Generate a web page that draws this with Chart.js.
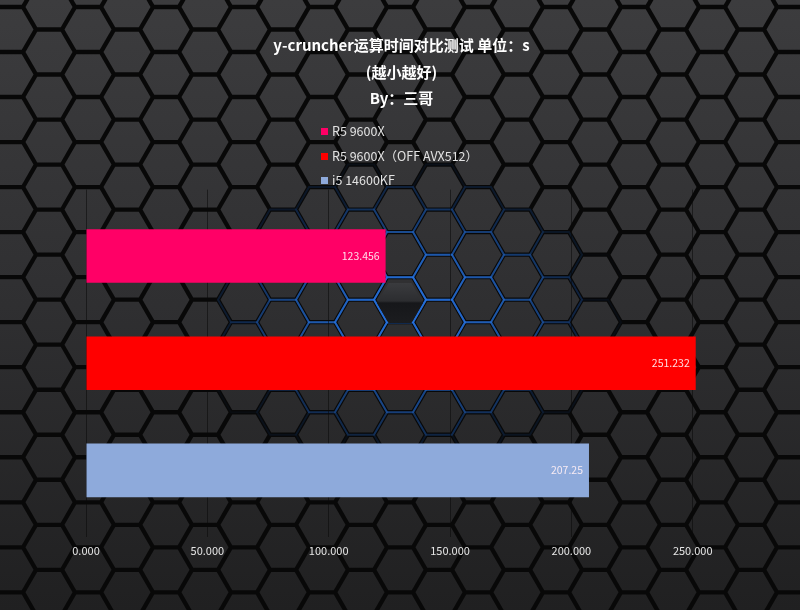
<!DOCTYPE html>
<html>
<head>
<meta charset="utf-8">
<script src="https://cdn.jsdelivr.net/npm/chart.js@4/dist/chart.umd.min.js"></script>
<style>
  html, body { margin: 0; padding: 0; background: #1b1b1b; }
  #wrap { position: relative; width: 800px; height: 610px; }
  #legend { position: absolute; left: 321px; top: 121px; font: 12.5px "Noto Sans CJK SC", "Noto Sans", sans-serif; color: #e2e2e2; }
  #legend div { height: 24.5px; line-height: 20px; white-space: nowrap; }
  #legend span { display: inline-block; width: 7px; height: 7px; margin-right: 4px; vertical-align: 1px; }
</style>
</head>
<body>
<div id="wrap">
  <canvas id="chart"></canvas>
  <div id="legend"></div>
</div>
<script>
// values
const TITLE = ['y-cruncher运算时间对比测试 单位：s', '(越小越好)', 'By：三哥'];
const SERIES = ['R5 9600X', 'R5 9600X（OFF AVX512）', 'i5 14600KF'];
const TIMES = [123.456, 251.232, 207.25];
const BAR_COLORS = ['#ff0066', '#ff0000', '#8eaadb'];
const X_TICKS = [0, 50, 100, 150, 200, 250];
const X_MAX = 260;

const FONT = '"Noto Sans CJK SC", "Noto Sans", sans-serif';

// hexagon backdrop
const hexBackground = {
  id: 'hexBackground',
  beforeDraw(chart) {
    const ctx = chart.ctx;
    const w = chart.width, h = chart.height;
    const r = 26, dx = 39, dy = 45.03;
    const ox = 49, oy = 52;
    const glowX = 405, glowY = 315;

    ctx.save();
    ctx.fillStyle = '#080808';
    ctx.fillRect(0, 0, w, h);

    const hexPath = (cx, cy, rad) => {
      ctx.beginPath();
      for (let k = 0; k < 6; k++) {
        const a = Math.PI / 3 * k;
        const px = cx + rad * Math.cos(a), py = cy + rad * Math.sin(a);
        k ? ctx.lineTo(px, py) : ctx.moveTo(px, py);
      }
      ctx.closePath();
    };

    const fill = ctx.createLinearGradient(0, 0, 0, h);
    fill.addColorStop(0, '#3c3c3e');
    fill.addColorStop(0.5, '#2f2f31');
    fill.addColorStop(1, '#202021');

    for (let c = -2; c * dx + ox < w + r * 2; c++) {
      const shift = (c % 2 !== 0) ? dy / 2 : 0;
      for (let rr = -2; rr * dy + oy < h + r * 2; rr++) {
        const cx = ox + c * dx;
        const cy = oy + rr * dy + shift;

        // blue glow around the middle, drawn under the tile
        const ex = (cx - glowX) / 200, ey = (cy - glowY) / 140;
        const d = Math.sqrt(ex * ex + ey * ey);
        if (d < 1) {
          hexPath(cx, cy, r);
          ctx.lineWidth = 2;
          ctx.strokeStyle = `rgba(40, 120, 235, ${Math.pow(1 - d, 0.9) * 0.8})`;
          ctx.stroke();
        }

        hexPath(cx, cy, r - 2.5);
        ctx.fillStyle = fill;
        ctx.fill();
      }
    }

    // the one dark tile in the middle
    hexPath(400, 303, 23);
    const dark = ctx.createLinearGradient(0, 283, 0, 323);
    dark.addColorStop(0, '#3a3b3e');
    dark.addColorStop(0.45, '#2c2d30');
    dark.addColorStop(0.5, '#16171a');
    dark.addColorStop(1, '#1b1c1f');
    ctx.fillStyle = dark;
    ctx.fill();
    ctx.restore();
  }
};

// value written inside the end of each bar
const barValues = {
  id: 'barValues',
  afterDatasetsDraw(chart) {
    const ctx = chart.ctx;
    ctx.save();
    ctx.font = '10.5px ' + FONT;
    ctx.textAlign = 'right';
    ctx.textBaseline = 'middle';
    chart.data.datasets.forEach((ds, i) => {
      chart.getDatasetMeta(i).data.forEach((bar, j) => {
        ctx.fillStyle = 'rgba(255, 240, 245, 0.92)';
        ctx.fillText(String(ds.data[j]), bar.x - 6, bar.y);
      });
    });
    ctx.restore();
  }
};

const chart = new Chart(document.getElementById('chart'), {
  type: 'bar',
  data: {
    labels: [''],
    datasets: SERIES.map((name, i) => ({
      label: name,
      data: [TIMES[i]],
      backgroundColor: BAR_COLORS[i],
      borderWidth: 0,
      categoryPercentage: 0.926,
      barPercentage: 0.5
    }))
  },
  options: {
    indexAxis: 'y',
    responsive: true,
    maintainAspectRatio: false,
    animation: false,
    layout: { padding: { left: 86, right: 83, top: 0, bottom: 46 } },
    plugins: {
      legend: { display: false },
      tooltip: { enabled: false },
      title: {
        display: true,
        text: TITLE,
        color: '#ffffff',
        font: { family: FONT, size: 15, weight: 'bold', lineHeight: 1.77 },
        padding: { top: 32, bottom: 78 }
      }
    },
    scales: {
      x: {
        min: 0,
        max: X_MAX,
        afterBuildTicks: axis => { axis.ticks = X_TICKS.map(v => ({ value: v })); },
        ticks: {
          color: '#e6e6e6',
          padding: 7,
          font: { family: FONT, size: 11 },
          callback: v => Number(v).toFixed(3)
        },
        grid: { color: 'rgba(10, 10, 10, 0.55)', lineWidth: 1, drawTicks: false },
        border: { display: false }
      },
      y: { display: false }
    }
  },
  plugins: [hexBackground, barValues]
});

// legend, one entry per line like the reference
const legend = document.getElementById('legend');
SERIES.forEach((name, i) => {
  const row = document.createElement('div');
  const box = document.createElement('span');
  box.style.background = BAR_COLORS[i];
  row.appendChild(box);
  row.appendChild(document.createTextNode(name));
  legend.appendChild(row);
});
</script>
</body>
</html>
